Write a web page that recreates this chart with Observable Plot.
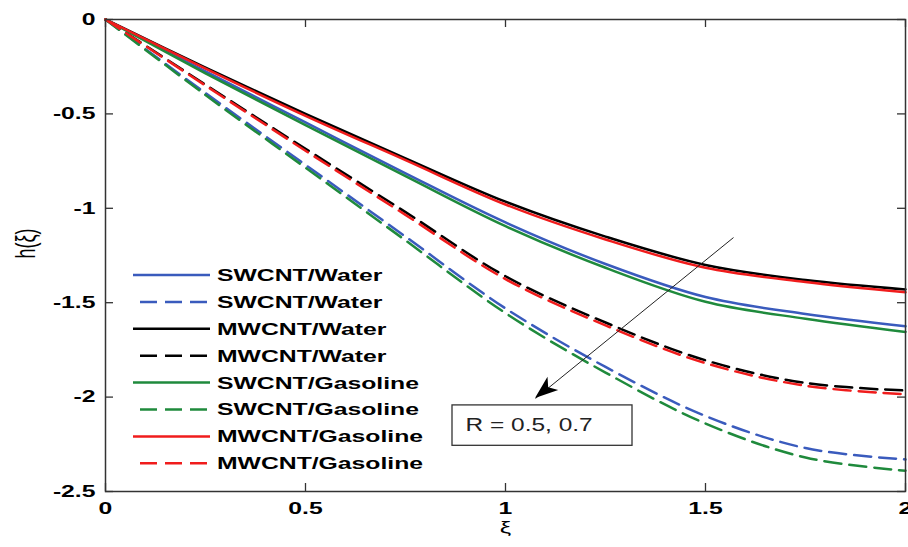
<!DOCTYPE html>
<html><head><meta charset="utf-8">
<script src="https://cdn.jsdelivr.net/npm/d3@7"></script>
<script src="https://cdn.jsdelivr.net/npm/@observablehq/plot@0.6"></script>
<style>
html,body{margin:0;padding:0;background:#fff;}
#chart{width:908px;height:547px;}
</style></head><body><div id="chart"></div>
<script>
// ---- data ----
const xi = [0, 0.25, 0.5, 0.75, 1, 1.25, 1.5, 1.75, 2];
const swcntWaterSolid    = [0, -0.275, -0.545, -0.815, -1.075, -1.295, -1.47, -1.56, -1.625];
const swcntWaterDashed   = [0, -0.39, -0.77, -1.15, -1.53, -1.84, -2.10, -2.27, -2.33];
const mwcntWaterSolid    = [0, -0.255, -0.50, -0.735, -0.965, -1.15, -1.30, -1.38, -1.43];
const mwcntWaterDashed   = [0, -0.345, -0.685, -1.02, -1.36, -1.605, -1.805, -1.925, -1.965];
const swcntGasSolid      = [0, -0.285, -0.56, -0.83, -1.095, -1.315, -1.495, -1.585, -1.655];
const swcntGasDashed     = [0, -0.40, -0.785, -1.17, -1.555, -1.87, -2.14, -2.32, -2.39];
const mwcntGasSolid      = [0, -0.26, -0.51, -0.745, -0.98, -1.165, -1.315, -1.39, -1.445];
const mwcntGasDashed     = [0, -0.35, -0.695, -1.035, -1.375, -1.62, -1.82, -1.94, -1.985];

const seriesNames = ["SWCNT/Water", "SWCNT/Water", "MWCNT/Water", "MWCNT/Water",
                     "SWCNT/Gasoline", "SWCNT/Gasoline", "MWCNT/Gasoline", "MWCNT/Gasoline"];
const seriesValues = [swcntWaterSolid, swcntWaterDashed, mwcntWaterSolid, mwcntWaterDashed,
                      swcntGasSolid, swcntGasDashed, mwcntGasSolid, mwcntGasDashed];
const seriesDashed = [false, true, false, true, false, true, false, true];
const seriesColors = ["#3a5bbd", "#3a5bbd", "#000000", "#000000", "#1f8a3c", "#1f8a3c", "#f01c1c", "#f01c1c"];

const xTicks = [0, 0.5, 1, 1.5, 2];
const yTicks = [0, -0.5, -1, -1.5, -2, -2.5];
const xLabel = "ξ";
const yLabel = "h(ξ)";
const annotationText = "R = 0.5, 0.7";
const annotationBox = {x1: 0.8675, x2: 1.3175, y1: -2.044, y2: -2.258, tx: 0.9, ty: -2.151};
const arrowSpec = {x1: 1.57, y1: -1.155, x2: 1.075, y2: -2.007};

// ---- layout ----
const W = 908, H = 547, mL = 105, mR = 3, mT = 19, mB = 56;
const frameW = W - mL - mR, frameH = H - mT - mB, tickLen = 8;
const dash = "17,8";
const lw = 2.5;

const lineMarks = seriesValues.map((vals, k) =>
  Plot.line(vals.map((v, i) => ({x: xi[i], y: v})), {
    x: "x", y: "y", stroke: seriesColors[k], strokeWidth: lw,
    strokeDasharray: seriesDashed[k] ? dash : null, curve: "catmull-rom"
  })
);

const chart = Plot.plot({
  width: W, height: H,
  marginLeft: mL, marginRight: mR, marginTop: mT, marginBottom: mB,
  style: {fontFamily: "'Liberation Sans', Arial, sans-serif", fontSize: "16.5px", fontWeight: "bold", background: "#fff", color: "#000"},
  x: {domain: [0, 2]},
  y: {domain: [-2.5, 0]},
  marks: [
    ...lineMarks,
    Plot.link([arrowSpec], {x1: "x1", y1: "y1", x2: "x2", y2: "y2", stroke: "#222", strokeWidth: 1}),
    Plot.rect([annotationBox], {x1: "x1", x2: "x2", y1: "y1", y2: "y2", fill: "#fff", stroke: "#333", strokeWidth: 1.3}),
    Plot.text([annotationBox], {x: "tx", y: "ty", text: () => annotationText, textAnchor: "start", fontSize: 18, fontWeight: "normal", fill: "#222", className: "annot"}),
    Plot.frame({stroke: "#333", strokeWidth: 1.5}),
    Plot.tickX(xTicks, {x: d => d, insetTop: frameH - tickLen, stroke: "#333", strokeWidth: 1.3}),
    Plot.tickX(xTicks, {x: d => d, insetBottom: frameH - tickLen, stroke: "#333", strokeWidth: 1.3}),
    Plot.tickY(yTicks, {y: d => d, insetRight: frameW - tickLen, stroke: "#333", strokeWidth: 1.3}),
    Plot.tickY(yTicks, {y: d => d, insetLeft: frameW - tickLen, stroke: "#333", strokeWidth: 1.3}),
    Plot.axisX(xTicks, {tickSize: 0, tickPadding: 11, tickFormat: d => String(d), label: null, fontSize: 16.5, fontWeight: "bold"}),
    Plot.axisY(yTicks, {tickSize: 0, tickPadding: 10, tickFormat: d => String(d), label: null, fontSize: 16.5, fontWeight: "bold"}),
    Plot.text([xLabel], {frameAnchor: "bottom", text: d => d, dy: 41, fontSize: 17, fontWeight: "normal"}),
    Plot.text([yLabel], {frameAnchor: "left", text: d => d, dx: -79, dy: 3, rotate: -90, fontSize: 18, fontWeight: "normal"})
  ]
});

document.getElementById("chart").appendChild(chart);
const svg = d3.select(chart);

// arrowhead (filled), placed with the plot's scales
const sx = chart.scale("x"), sy = chart.scale("y");
{
  const tx0 = sx.apply(arrowSpec.x1), ty0 = sy.apply(arrowSpec.y1);
  const tx = sx.apply(arrowSpec.x2), ty = sy.apply(arrowSpec.y2);
  const len = Math.hypot(tx - tx0, ty - ty0);
  const ux = (tx - tx0) / len, uy = (ty - ty0) / len, nx = -uy, ny = ux;
  const L = 23, w = 8.5, notch = 6;
  const pts = [
    [tx, ty],
    [tx - L * ux + w * nx, ty - L * uy + w * ny],
    [tx - (L - notch) * ux, ty - (L - notch) * uy],
    [tx - L * ux - w * nx, ty - L * uy - w * ny]
  ];
  svg.append("polygon").attr("points", pts.map(p => p.join(",")).join(" ")).attr("fill", "#000");
}

// legend
{
  const g = svg.append("g").attr("class", "legend").attr("text-anchor", "start");
  const y0 = 275, step = 26.9;
  seriesNames.forEach((name, k) => {
    const y = y0 + k * step;
    g.append("line")
      .attr("x1", seriesDashed[k] ? 140 : 133).attr("x2", 210)
      .attr("y1", y).attr("y2", y)
      .attr("stroke", seriesColors[k]).attr("stroke-width", lw)
      .attr("stroke-dasharray", seriesDashed[k] ? dash : null);
    g.append("text").attr("x", 217).attr("y", y).attr("dy", "0.36em")
      .attr("text-anchor", "start")
      .attr("font-size", 16.5).attr("font-weight", "bold").attr("fill", "#000")
      .text(name);
  });
}

// the reference's lettering is stretched horizontally
svg.selectAll("text").each(function () {
  const el = this;
  const inAnnot = el.closest(".annot") || (el.classList && el.classList.contains("annot"));
  const s = inAnnot ? 1.36 : 1.5;
  const x = parseFloat(el.getAttribute("x")) || 0;
  const y = parseFloat(el.getAttribute("y")) || 0;
  let ax = x, ay = y;
  const tl = el.transform && el.transform.baseVal;
  if (tl && tl.numberOfItems) {
    const m = tl.consolidate().matrix;
    ax = m.a * x + m.c * y + m.e;
    ay = m.b * x + m.d * y + m.f;
  }
  const existing = el.getAttribute("transform") || "";
  el.setAttribute("transform", `translate(${ax},${ay}) scale(${s},1) translate(${-ax},${-ay}) ${existing}`);
});
</script>
</body></html>
